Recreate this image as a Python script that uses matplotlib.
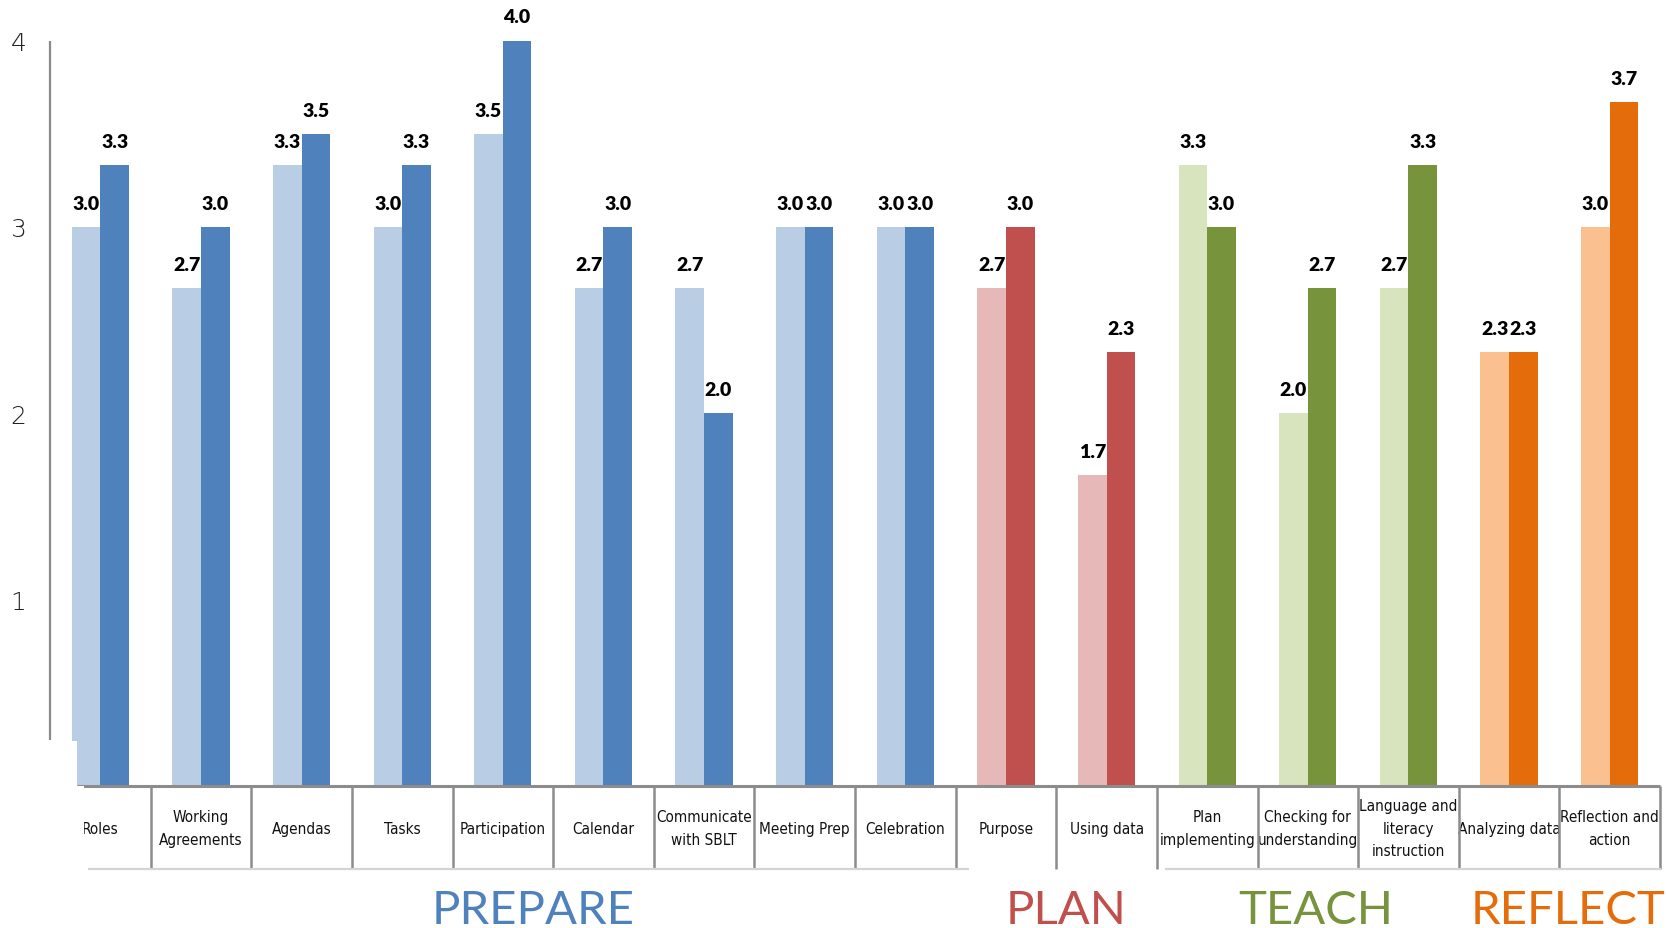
import matplotlib
matplotlib.use("Agg")
import matplotlib.pyplot as plt
from matplotlib.patches import Rectangle
import numpy as np

# ---- data -------------------------------------------------------------
categories = ['Roles', 'Working\nAgreements', 'Agendas', 'Tasks', 'Participation',
              'Calendar', 'Communicate\nwith SBLT', 'Meeting Prep', 'Celebration',
              'Purpose', 'Using data',
              'Plan\nimplementing', 'Checking for\nunderstanding',
              'Language and\nliteracy\ninstruction',
              'Analyzing data', 'Reflection and\naction']
before = [3.00, 2.67, 3.33, 3.00, 3.50, 2.67, 2.67, 3.00, 3.00,
          2.67, 1.67,
          3.33, 2.00, 2.67,
          2.33, 3.00]
after = [3.33, 3.00, 3.50, 3.33, 4.00, 3.00, 2.00, 3.00, 3.00,
         3.00, 2.33,
         3.00, 2.67, 3.33,
         2.33, 3.67]
groups = ['PREPARE', 'PLAN', 'TEACH', 'REFLECT']
group_sizes = [9, 2, 3, 2]
yticks = [1, 2, 3, 4]

# ---- styling ----------------------------------------------------------
light_colors = ['#B9CDE5', '#E6B9B8', '#D7E4BD', '#FAC090']
dark_colors = ['#4F81BD', '#C0504D', '#77933C', '#E46C0A']

W, H = 1667, 929
fig = plt.figure(figsize=(W / 100, H / 100), dpi=100)
ax = fig.add_axes([50 / W, (H - 787) / H, 1610 / W, (787 - 41.5) / H])

n = len(categories)
x = np.arange(n)
group_idx = np.repeat(np.arange(len(groups)), group_sizes)
bw = 0.285

lc = [light_colors[g] for g in group_idx]
dc = [dark_colors[g] for g in group_idx]
b1 = ax.bar(x - bw, before, width=bw, align='edge', color=lc, zorder=2)
b2 = ax.bar(x, after, width=bw, align='edge', color=dc, zorder=2)

lab_font = dict(family='Lato', fontweight='heavy', fontsize=14, color='black')
for bars, vals in ((b1, before), (b2, after)):
    for rect, v in zip(bars, vals):
        ax.annotate(f'{v:.1f}', (rect.get_x() + rect.get_width() / 2, v),
                    xytext=(0, 17), textcoords='offset points',
                    ha='center', va='center', **lab_font)

ax.set_xlim(-0.5, n - 0.5)
ax.set_ylim(0, 4)
for s in ax.spines.values():
    s.set_visible(False)
ax.set_xticks([])
ax.set_yticks(yticks)
ax.set_yticklabels([str(t) for t in yticks], family='DejaVu Sans',
                   fontweight='light', fontsize=18, color='#222222')
ax.tick_params(axis='y', length=0, pad=17)

# left axis line (stops short of the baseline)
ax.plot([-0.5, -0.5], [0.247, 4.0], color='#8a8a8a', lw=1.6,
        clip_on=False, zorder=3, solid_capstyle='butt')

# table of category names under the bars
row_bottom = -(870 - 787) / 186.0
ax.plot([-0.5 + 27 / 100.6, n - 0.5], [0, 0], color='#8c8c8c', lw=2.2,
        clip_on=False, zorder=4, solid_capstyle='butt')
for k in range(1, n + 1):
    ax.plot([k - 0.5, k - 0.5], [0, row_bottom], color='#8c8c8c', lw=1.8,
            clip_on=False, zorder=4, solid_capstyle='butt')

def px_to_x(px):
    return (px - 50) / 100.6 - 0.5

for a, b in ((88, 969), (1165, 1661)):
    ax.plot([px_to_x(a), px_to_x(b)], [row_bottom, row_bottom],
            color='#d4d4d4', lw=1.6, clip_on=False, zorder=4,
            solid_capstyle='butt')

label_y = -(829 - 787) / 186.0
for xi, name in zip(x, categories):
    ax.text(xi, label_y, name, ha='center', va='center', fontsize=11,
            family='DejaVu Sans', fontstretch='condensed', linespacing=1.6,
            color='#111111', clip_on=False)

# group titles
group_offsets = [0.3, 0.1, 0.08, 0.09]
starts = np.cumsum([0] + group_sizes[:-1])
for name, st, sz, col, off in zip(groups, starts, group_sizes, dark_colors, group_offsets):
    cx = st + (sz - 1) / 2 + off
    ax.text(cx, -(911 - 787) / 186.0, name, ha='center', va='center',
            fontsize=34, family='Lato', color=col, clip_on=False)

# blank out the lower-left corner
fig.add_artist(Rectangle((0, (H - 787) / H), 77 / W, (787 - 742) / H,
                         transform=fig.transFigure, facecolor='white',
                         edgecolor='none', zorder=10))
fig.add_artist(Rectangle((0, (H - 870) / H), 84 / W, (870 - 787) / H,
                         transform=fig.transFigure, facecolor='white',
                         edgecolor='none', zorder=10))

fig.savefig('out.png', dpi=100, facecolor='white')
